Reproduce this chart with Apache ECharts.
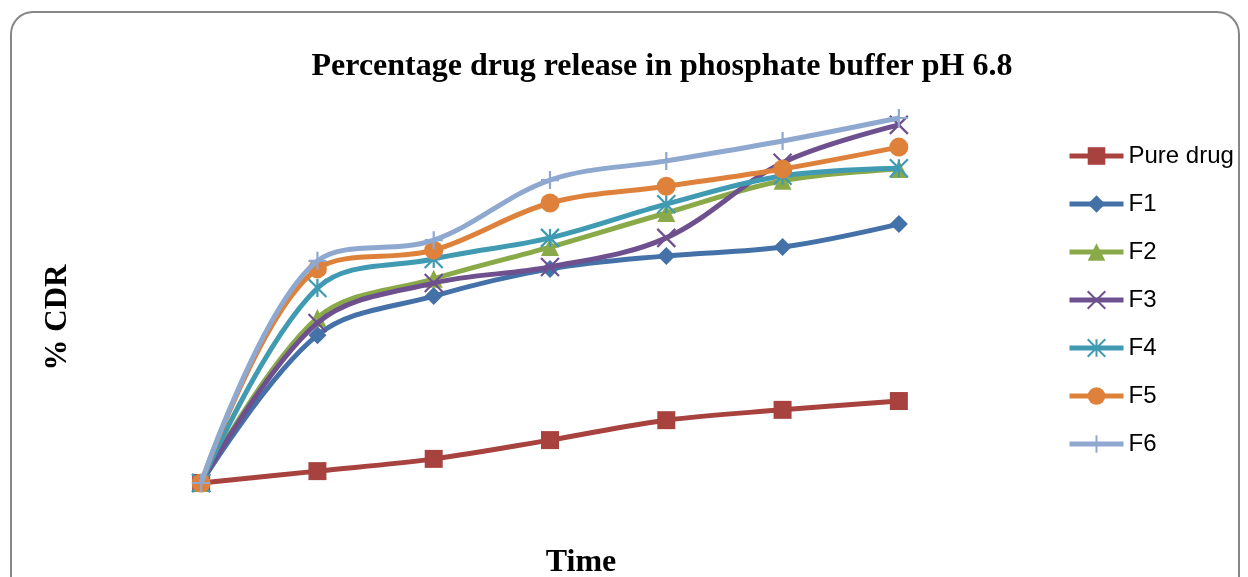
<!DOCTYPE html>
<html>
<head>
<meta charset="utf-8">
<script src="https://cdn.jsdelivr.net/npm/echarts@6/dist/echarts.min.js"></script>
<style>
html,body{margin:0;padding:0;background:#fff;}
#chart{width:1248px;height:577px;}
</style>
</head>
<body>
<div id="chart"></div>
<script>
const categories = ["0", "1", "2", "3", "4", "5", "6"];
const seriesNames = ["Pure drug", "F1", "F2", "F3", "F4", "F5", "F6"];
const pureDrug = [0, 3.1, 6.3, 11.2, 16.4, 19.1, 21.4];
const f1 = [0, 38.6, 48.8, 55.9, 59.3, 61.6, 67.6];
const f2 = [0, 43.1, 53.3, 61.6, 70.5, 78.9, 82.0];
const f3 = [0, 41.8, 52.2, 56.4, 64.0, 83.6, 93.5];
const f4 = [0, 50.9, 58.5, 64.0, 72.8, 80.2, 82.2];
const f5 = [0, 55.9, 60.8, 73.1, 77.5, 82.0, 87.7];
const f6 = [0, 58.0, 63.4, 79.1, 84.1, 89.3, 95.3];
const allData = [pureDrug, f1, f2, f3, f4, f5, f6];

const colors = ["#A8423F", "#4472A8", "#8AAA4A", "#6E508F", "#3F9AB2", "#DE823B", "#8EA8D0"];
const symbols = [
  "rect",
  "diamond",
  "triangle",
  "path://M0,0L1,1M1,0L0,1",
  "path://M0.5,0L0.5,1M0,0L1,1M1,0L0,1",
  "circle",
  "path://M0.5,0L0.5,1M0,0.5L1,0.5"
];
const symbolSizes = [18, 18, 18, 18, 18, 19, 18];
const strokeOnly = [false, false, false, true, true, false, true];

const chart = echarts.init(document.getElementById('chart'), null, {renderer: 'canvas'});

const series = seriesNames.map((name, i) => ({
  name: name,
  type: 'line',
  data: allData[i],
  smooth: 0.35,
  symbol: symbols[i],
  symbolSize: symbolSizes[i],
  showAllSymbol: true,
  lineStyle: {color: colors[i], width: 5},
  itemStyle: strokeOnly[i]
    ? {color: colors[i], borderColor: colors[i], borderWidth: 2.2}
    : {color: colors[i], borderWidth: 0},
  emphasis: {disabled: true},
  animation: false,
  z: 2 + i
}));

chart.setOption({
  backgroundColor: '#ffffff',
  animation: false,
  title: {
    text: 'Percentage drug release in phosphate buffer pH 6.8',
    left: 657,
    textAlign: 'center',
    top: 46,
    textStyle: {
      fontFamily: 'Liberation Serif',
      fontWeight: 'bold',
      fontSize: 32,
      color: '#000'
    }
  },
  legend: {
    orient: 'vertical',
    left: 1062,
    top: 139,
    itemWidth: 54,
    itemHeight: 22,
    itemGap: 24,
    textStyle: {
      fontFamily: 'Liberation Sans',
      fontSize: 24,
      color: '#000'
    },
    lineStyle: {width: 5},
    data: seriesNames
  },
  grid: {
    left: 143,
    right: 291,
    top: 100,
    bottom: 94,
    containLabel: false,
    outerBoundsMode: 'none'
  },
  xAxis: {
    type: 'category',
    data: categories,
    boundaryGap: true,
    name: 'Time',
    nameLocation: 'middle',
    nameGap: 64,
    nameTextStyle: {
      fontFamily: 'Liberation Serif',
      fontWeight: 'bold',
      fontSize: 32,
      color: '#000',
      padding: [0, 0, 0, 62]
    },
    axisLine: {show: false},
    axisTick: {show: false},
    axisLabel: {show: false},
    splitLine: {show: false}
  },
  yAxis: {
    type: 'value',
    min: 0,
    max: 100,
    name: '% CDR',
    nameLocation: 'middle',
    nameGap: 70,
    nameRotate: 90,
    nameTextStyle: {
      fontFamily: 'Liberation Serif',
      fontWeight: 'bold',
      fontSize: 31,
      color: '#000',
      padding: [0, 52, 0, 0]
    },
    axisLine: {show: false},
    axisTick: {show: false},
    axisLabel: {show: false},
    splitLine: {show: false}
  },
  graphic: [{
    type: 'rect',
    shape: {x: 11, y: 12, width: 1228, height: 620, r: 22},
    style: {fill: 'none', stroke: '#878787', lineWidth: 2},
    silent: true,
    z: -10
  }],
  series: series
});
</script>
</body>
</html>
